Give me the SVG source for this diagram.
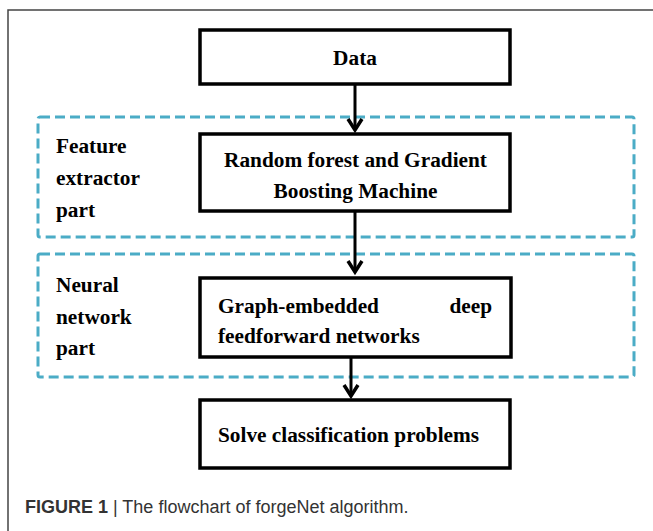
<svg xmlns="http://www.w3.org/2000/svg" width="653" height="531" viewBox="0 0 653 531">
<style>
.box{fill:#fff;stroke:#000;stroke-width:3.5}
.grp{fill:none;stroke:#4bacc6;stroke-width:3;stroke-dasharray:10 5}
.t{font-family:"Liberation Serif","Times New Roman",serif;font-weight:bold;font-size:21.3px;fill:#000}
.c{stroke:#000;stroke-width:3;fill:none}
.cap{font-family:"Liberation Sans",Arial,sans-serif;font-size:18px;fill:#333}
</style>
<defs>
<marker id="ah" markerUnits="userSpaceOnUse" markerWidth="20" markerHeight="20" viewBox="-16 -10 20 20" refX="0" refY="0" orient="auto">
<path d="M-11,-7 L0,0 L-11,7" fill="none" stroke="#000" stroke-width="3.5"/>
</marker>
</defs>
<rect width="653" height="531" fill="#fff"/>
<path d="M8,531 V10 H653" fill="none" stroke="#444" stroke-width="1.5"/>

<g id="group-feature">
<rect class="grp" x="38" y="117" width="596" height="120" rx="2"/>
<text class="t" x="56" y="153">Feature</text>
<text class="t" x="56" y="185">extractor</text>
<text class="t" x="56" y="217">part</text>
</g>
<g id="group-neural">
<rect class="grp" x="38" y="254" width="596" height="123" rx="2"/>
<text class="t" x="56" y="292">Neural</text>
<text class="t" x="56" y="324">network</text>
<text class="t" x="56" y="355">part</text>
</g>

<g id="connectors">
<line class="c" x1="355" y1="85" x2="355" y2="130" marker-end="url(#ah)"/>
<line class="c" x1="355" y1="212" x2="355" y2="272" marker-end="url(#ah)"/>
<line class="c" x1="351" y1="358" x2="351" y2="396" marker-end="url(#ah)"/>
</g>

<g id="node-data">
<rect class="box" x="200" y="30" width="310" height="54"/>
<text class="t" x="355" y="65" text-anchor="middle">Data</text>
</g>
<g id="node-rf">
<rect class="box" x="200" y="134" width="310" height="77"/>
<text class="t" x="355.5" y="167" text-anchor="middle">Random forest and Gradient</text>
<text class="t" x="355.5" y="198" text-anchor="middle">Boosting Machine</text>
</g>
<g id="node-gdnn">
<rect class="box" x="200" y="278" width="311" height="79"/>
<text class="t" x="218" y="313">Graph-embedded</text>
<text class="t" x="492" y="313" text-anchor="end">deep</text>
<text class="t" x="218" y="343">feedforward networks</text>
</g>
<g id="node-solve">
<rect class="box" x="200" y="400" width="310" height="68"/>
<text class="t" x="218" y="442">Solve classification problems</text>
</g>

<text class="cap" x="25" y="513"><tspan font-weight="bold">FIGURE 1 </tspan><tspan>| The flowchart of forgeNet algorithm.</tspan></text>
</svg>
